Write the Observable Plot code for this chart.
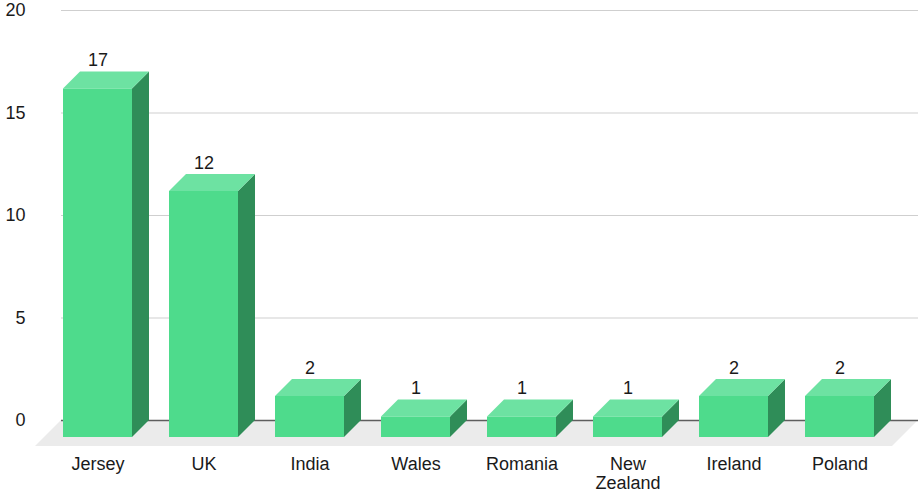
<!DOCTYPE html>
<html>
<head>
<meta charset="utf-8">
<script src="https://cdn.jsdelivr.net/npm/d3@7"></script>
<script src="https://cdn.jsdelivr.net/npm/@observablehq/plot@0.6"></script>
<style>
  html, body { margin: 0; padding: 0; background: #fff; }
  #chart { width: 918px; height: 492px; }
</style>
</head>
<body>
<div id="chart"></div>
<script>
const countries = ["Jersey", "UK", "India", "Wales", "Romania", "New Zealand", "Ireland", "Poland"];
const counts = [17, 12, 2, 1, 1, 1, 2, 2];
const tickLabels = ["Jersey", "UK", "India", "Wales", "Romania", "New\nZealand", "Ireland", "Poland"];
const yTicks = [0, 5, 10, 15, 20];

const data = countries.map((c, i) => ({country: c, count: counts[i]}));

const DEPTH = 17;       // bar depth (px)
const FLOOR = 26;       // floor depth (px)
const FRONT = "#4edb8c", TOP = "#6de2a2", SIDE = "#2f8d58";

function floorMark(index, {y}, values, {width, marginLeft, marginRight}) {
  const y0 = y(0);
  const backL = marginLeft + DEPTH, backR = width;
  const frontL = backL - FLOOR, frontR = width - marginRight;
  const g = d3.create("svg:g");
  g.append("path")
    .attr("d", `M${backL},${y0}L${backR},${y0}L${frontR},${y0 + FLOOR}L${frontL},${y0 + FLOOR}Z`)
    .attr("fill", "#ebebeb");
  return g.node();
}

function barsMark(index, {x, y}) {
  const bw = typeof x.bandwidth === "function" ? x.bandwidth() : x.bandwidth;
  const g = d3.create("svg:g");
  const y0 = y(0);
  for (const d of data) {
    const x0 = x(d.country), x1 = x0 + bw;
    const yt = y(d.count);
    // side face
    g.append("path")
      .attr("d", `M${x1},${yt + DEPTH}L${x1 + DEPTH},${yt}L${x1 + DEPTH},${y0}L${x1},${y0 + DEPTH}Z`)
      .attr("fill", SIDE);
    // top face
    g.append("path")
      .attr("d", `M${x0},${yt + DEPTH}L${x0 + DEPTH},${yt}L${x1 + DEPTH},${yt}L${x1},${yt + DEPTH}Z`)
      .attr("fill", TOP);
    // front face
    g.append("rect")
      .attr("x", x0).attr("y", yt + DEPTH)
      .attr("width", bw).attr("height", y0 - yt)
      .attr("fill", FRONT);
  }
  return g.node();
}

const chart = Plot.plot({
  width: 918,
  height: 492,
  marginTop: 10,
  marginBottom: 72,
  marginLeft: 44,
  marginRight: 26,
  style: {fontFamily: "'Liberation Sans', Arial, sans-serif", fontSize: "18px", color: "#1a1a1a", background: "#fff"},
  x: {type: "band", domain: countries, paddingInner: 0.35, paddingOuter: 0.175},
  y: {domain: [0, 20]},
  marks: [
    floorMark,
    Plot.ruleY(yTicks.filter(t => t > 0), {stroke: "#cfcfcf", strokeWidth: 1.2, insetLeft: DEPTH, insetRight: -26}),
    Plot.ruleY([0], {stroke: "#5e5e5e", strokeWidth: 1.5, insetLeft: DEPTH, insetRight: -26}),
    barsMark,
    Plot.text(data, {x: "country", y: "count", text: d => String(d.count), lineAnchor: "bottom", dy: -6, fill: "#1a1a1a", fontSize: 18}),
    Plot.axisY({ticks: yTicks, tickSize: 0, tickPadding: 19, label: null, fontSize: 18, fill: "#1a1a1a"}),
    Plot.axisX({tickSize: 0, tickPadding: 36, label: null, fontSize: 18, fill: "#1a1a1a", lineHeight: 1.05,
      tickFormat: d => tickLabels[countries.indexOf(d)]})
  ]
});
document.getElementById("chart").appendChild(chart);
</script>
</body>
</html>
